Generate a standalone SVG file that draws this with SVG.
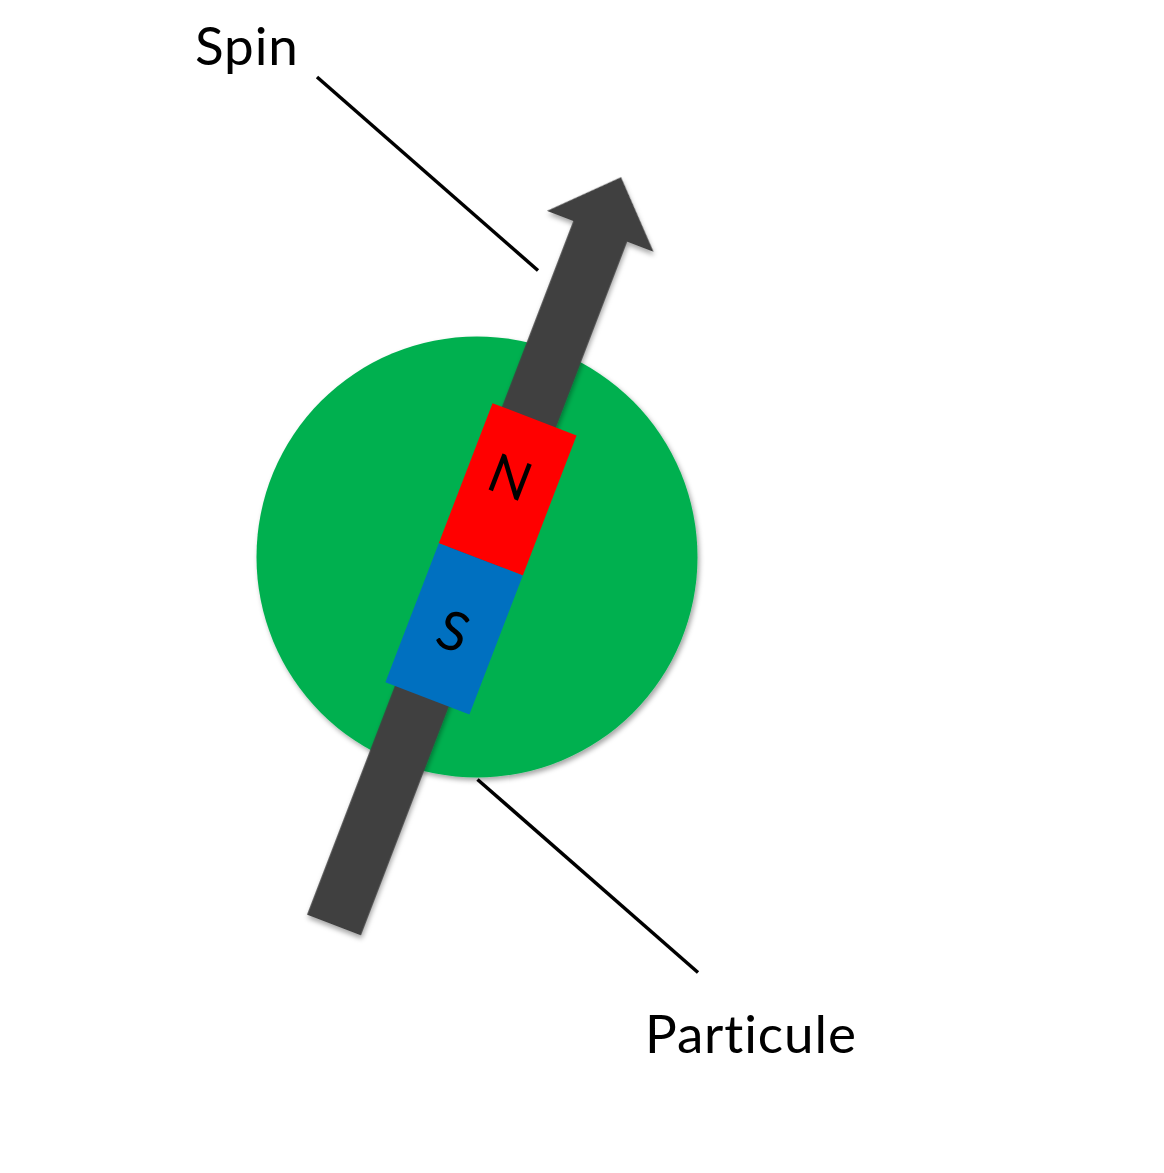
<svg xmlns="http://www.w3.org/2000/svg" width="1164" height="1173" viewBox="0 0 1164 1173">
  <style>
    .label { font-family: Lato, "Open Sans", "Liberation Sans", sans-serif; font-size: 53px; letter-spacing: 0.9px; font-variant-ligatures: none; fill: #000; }
    .pole { font-family: Lato, "Open Sans", "Liberation Sans", sans-serif; font-size: 54px; fill: #000; text-anchor: middle; }
    .leader { stroke: #000; stroke-width: 3.5; fill: none; }
  </style>
  <defs>
    <filter id="shadow" x="-20%" y="-20%" width="140%" height="140%">
      <feDropShadow dx="2" dy="3" stdDeviation="2.5" flood-color="#000" flood-opacity="0.35"/>
    </filter>
  </defs>
  <rect width="1164" height="1173" fill="#fff"/>

  <g id="particle">
    <circle cx="477" cy="557" r="220.5" fill="#00B050" filter="url(#shadow)"/>
  </g>

  <g id="spin-arrow" transform="translate(334,925) rotate(21)">
    <polygon points="-28.8,0 28.8,0 28.8,-743 57,-743 0,-801 -57,-743 -28.8,-743" fill="#404040" filter="url(#shadow)"/>
  </g>

  <g id="magnet" transform="translate(334,925) rotate(21)">
    <rect x="-39" y="-544" width="90" height="150" fill="#FF0000"/>
    <rect x="-39" y="-394" width="90" height="149" fill="#0070C0"/>
    <text class="pole" x="4" y="-462">N</text>
    <text class="pole" x="6" y="-298">S</text>
  </g>

  <g id="connectors">
    <line class="leader" x1="317" y1="77" x2="538" y2="270.5"/>
    <line class="leader" x1="477.5" y1="779.5" x2="698" y2="972.5"/>
  </g>

  <g id="labels">
    <text class="label" x="195" y="65">Spin</text>
    <text class="label" x="645" y="1053">Particule</text>
  </g>
</svg>
